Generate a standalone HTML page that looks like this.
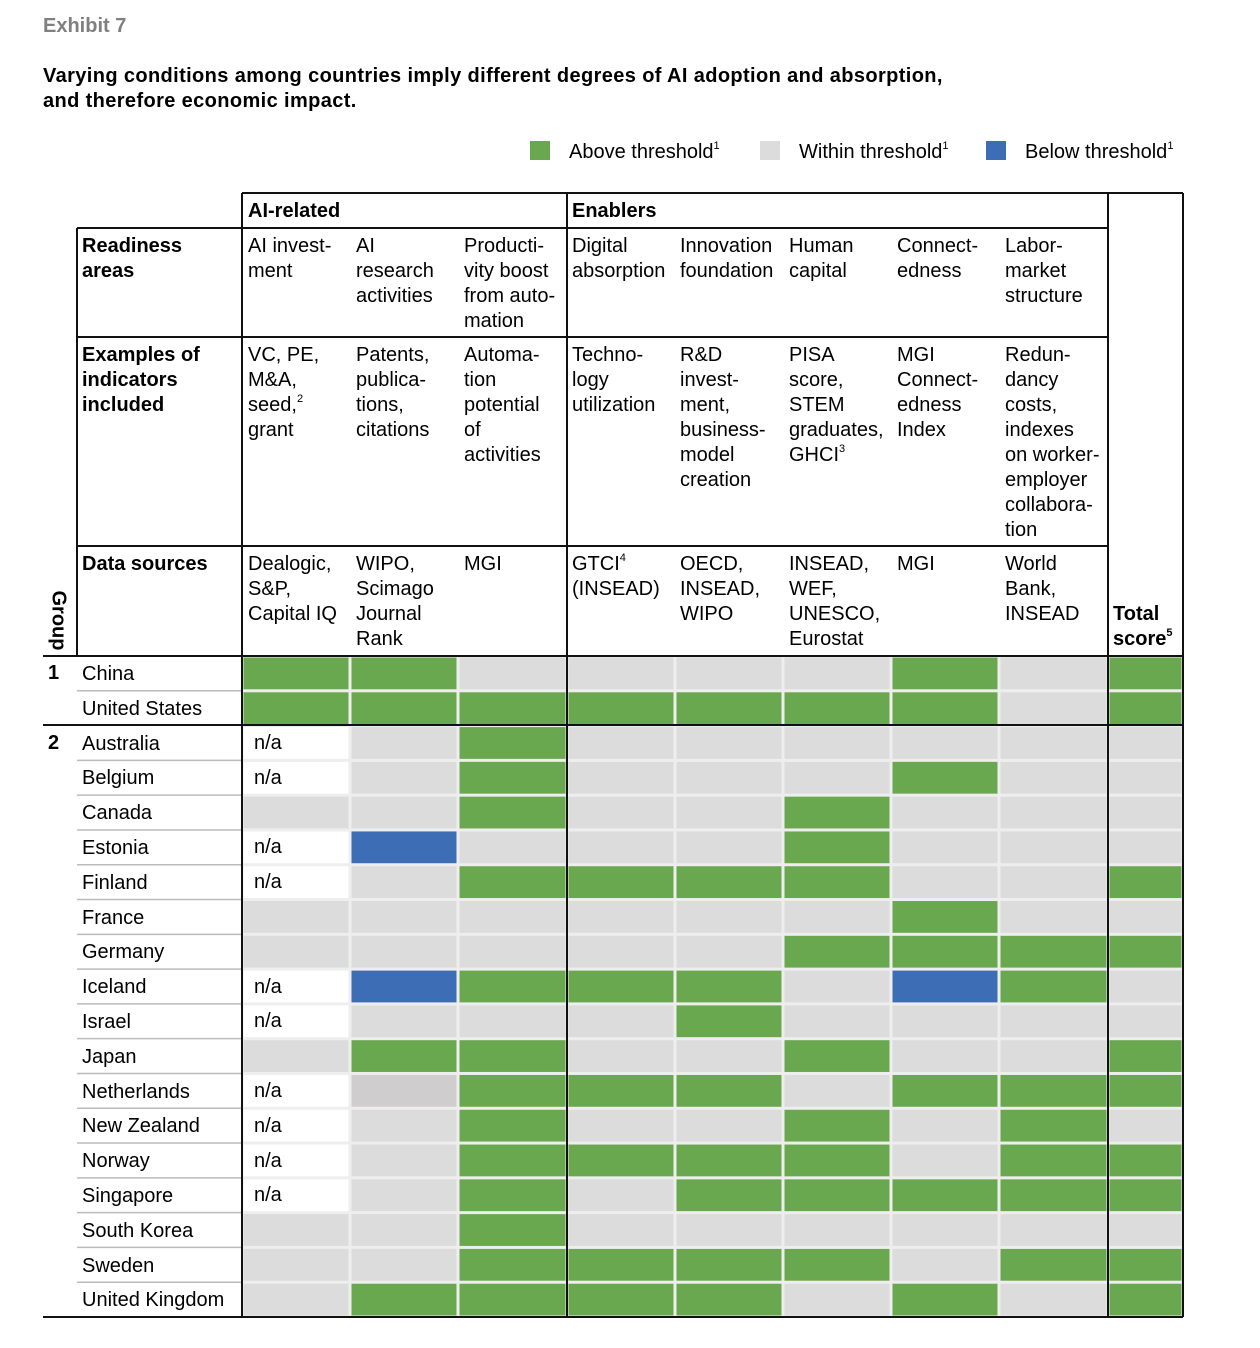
<!DOCTYPE html>
<html><head><meta charset="utf-8">
<style>
body{margin:0;background:#fff;width:1260px;height:1348px;position:relative;font-family:"Liberation Sans",Arial,sans-serif;color:#000;overflow:hidden}
.t{position:absolute;font-size:20px;line-height:25px;white-space:nowrap}
.b{font-weight:bold}
sup{font-size:11px;line-height:0;vertical-align:9px}
svg{position:absolute;left:0;top:0}
</style></head><body>
<svg width="1260" height="1348" id="g">
<rect x="242" y="656" width="941" height="661" fill="#eeeeee"/>
<g id="cells"></g>
<g stroke="#bbb" stroke-width="1.5" id="sep"></g>
<g stroke="#111" stroke-width="2" fill="none">
<line x1="242" y1="193" x2="1183" y2="193"/>
<line x1="77" y1="228" x2="1108" y2="228"/>
<line x1="77" y1="337" x2="1108" y2="337"/>
<line x1="77" y1="546" x2="1108" y2="546"/>
<line x1="43" y1="656" x2="1183" y2="656"/>
<line x1="43" y1="725" x2="1183" y2="725"/>
<line x1="43" y1="1317" x2="1183" y2="1317"/>
<line x1="77" y1="228" x2="77" y2="656"/>
<line x1="242" y1="193" x2="242" y2="1317"/>
<line x1="567" y1="193" x2="567" y2="1317"/>
<line x1="1108" y1="193" x2="1108" y2="1317"/>
<line x1="1183" y1="193" x2="1183" y2="1317"/>
</g>
<rect x="530" y="141" width="20" height="19" fill="#6aa84f"/>
<rect x="760" y="141" width="20" height="19" fill="#dcdcdc"/>
<rect x="986" y="141" width="20" height="19" fill="#3d6eb5"/>
</svg>
<script>
var rows=["GGLLLLGLG","GGGGGGGLG","NLGLLLLLL","NLGLLLGLL","LLGLLGLLL","NBLLLGLLL","NLGGGGLLG","LLLLLLGLL","LLLLLGGGG","NBGGGLBGL","NLLLGLLLL","LGGLLGLLG","NDGGGLGGG","NLGLLGLGL","NLGGGGLGG","NLGLGGGGG","LLGLLLLLL","LLGGGGLGG","LGGGGLGLG"];
var xs=[242,350,458,567,675,783,891,999,1108,1183];
var col={G:"#6aa84f",L:"#dcdcdc",B:"#3d6eb5",N:"#ffffff",D:"#cfcdcd"};
var h=661/19,s="",sp="";
rows.forEach(function(r,i){var y=656+i*h;
for(var j=0;j<9;j++){var x0=xs[j]+1.5,x1=xs[j+1]-1.5;
s+='<rect x="'+x0+'" y="'+(y+1.5)+'" width="'+(x1-x0)+'" height="'+(h-3)+'" fill="'+col[r.charAt(j)]+'"/>';}
if(i>0&&i!=2)sp+='<line x1="77" y1="'+y+'" x2="242" y2="'+y+'"/>';});
document.getElementById("cells").innerHTML=s;document.getElementById("sep").innerHTML=sp;
</script>
<div class="t b" style="left:43px;top:14px;color:#808080">Exhibit 7</div>
<div class="t b" style="left:43px;top:64px;letter-spacing:0.38px">Varying conditions among countries imply different degrees of AI adoption and absorption,<br>and therefore economic impact.</div>
<div class="t" style="left:569px;top:140px">Above threshold<sup>1</sup></div>
<div class="t" style="left:799px;top:140px">Within threshold<sup>1</sup></div>
<div class="t" style="left:1025px;top:140px">Below threshold<sup>1</sup></div>
<div class="t b" style="left:248px;top:199px">AI-related</div>
<div class="t b" style="left:572px;top:199px">Enablers</div>
<div class="t b" style="left:82px;top:234px">Readiness<br>areas</div>
<div class="t" style="left:248px;top:234px">AI invest-<br>ment</div>
<div class="t" style="left:356px;top:234px">AI<br>research<br>activities</div>
<div class="t" style="left:464px;top:234px">Producti-<br>vity boost<br>from auto-<br>mation</div>
<div class="t" style="left:572px;top:234px">Digital<br>absorption</div>
<div class="t" style="left:680px;top:234px">Innovation<br>foundation</div>
<div class="t" style="left:789px;top:234px">Human<br>capital</div>
<div class="t" style="left:897px;top:234px">Connect-<br>edness</div>
<div class="t" style="left:1005px;top:234px">Labor-<br>market<br>structure</div>
<div class="t b" style="left:82px;top:343px">Examples of<br>indicators<br>included</div>
<div class="t" style="left:248px;top:343px">VC, PE,<br>M&amp;A,<br>seed,<sup>2</sup><br>grant</div>
<div class="t" style="left:356px;top:343px">Patents,<br>publica-<br>tions,<br>citations</div>
<div class="t" style="left:464px;top:343px">Automa-<br>tion<br>potential<br>of<br>activities</div>
<div class="t" style="left:572px;top:343px">Techno-<br>logy<br>utilization</div>
<div class="t" style="left:680px;top:343px">R&amp;D<br>invest-<br>ment,<br>business-<br>model<br>creation</div>
<div class="t" style="left:789px;top:343px">PISA<br>score,<br>STEM<br>graduates,<br>GHCI<sup>3</sup></div>
<div class="t" style="left:897px;top:343px">MGI<br>Connect-<br>edness<br>Index</div>
<div class="t" style="left:1005px;top:343px">Redun-<br>dancy<br>costs,<br>indexes<br>on worker-<br>employer<br>collabora-<br>tion</div>
<div class="t b" style="left:82px;top:552px">Data sources</div>
<div class="t" style="left:248px;top:552px">Dealogic,<br>S&amp;P,<br>Capital IQ</div>
<div class="t" style="left:356px;top:552px">WIPO,<br>Scimago<br>Journal<br>Rank</div>
<div class="t" style="left:464px;top:552px">MGI</div>
<div class="t" style="left:572px;top:552px">GTCI<sup>4</sup><br>(INSEAD)</div>
<div class="t" style="left:680px;top:552px">OECD,<br>INSEAD,<br>WIPO</div>
<div class="t" style="left:789px;top:552px">INSEAD,<br>WEF,<br>UNESCO,<br>Eurostat</div>
<div class="t" style="left:897px;top:552px">MGI</div>
<div class="t" style="left:1005px;top:552px">World<br>Bank,<br>INSEAD</div>
<div class="t b" style="left:1113px;top:602px">Total<br>score<sup>5</sup></div>
<div class="t b" style="left:28px;top:608px;transform:rotate(90deg);transform-origin:center">Group</div>
<div class="t b" style="left:48px;top:661px">1</div>
<div class="t b" style="left:48px;top:731px">2</div>
<div class="t" style="left:82px;line-height:34.8px;top:657px">China<br>United States<br>Australia<br>Belgium<br>Canada<br>Estonia<br>Finland<br>France<br>Germany<br>Iceland<br>Israel<br>Japan<br>Netherlands<br>New Zealand<br>Norway<br>Singapore<br>South Korea<br>Sweden<br>United Kingdom</div>
<div class="t" style="left:254px;top:726px;line-height:34.8px">n/a<br>n/a<br><br>n/a<br>n/a<br><br><br>n/a<br>n/a<br><br>n/a<br>n/a<br>n/a<br>n/a</div>
</body></html>
